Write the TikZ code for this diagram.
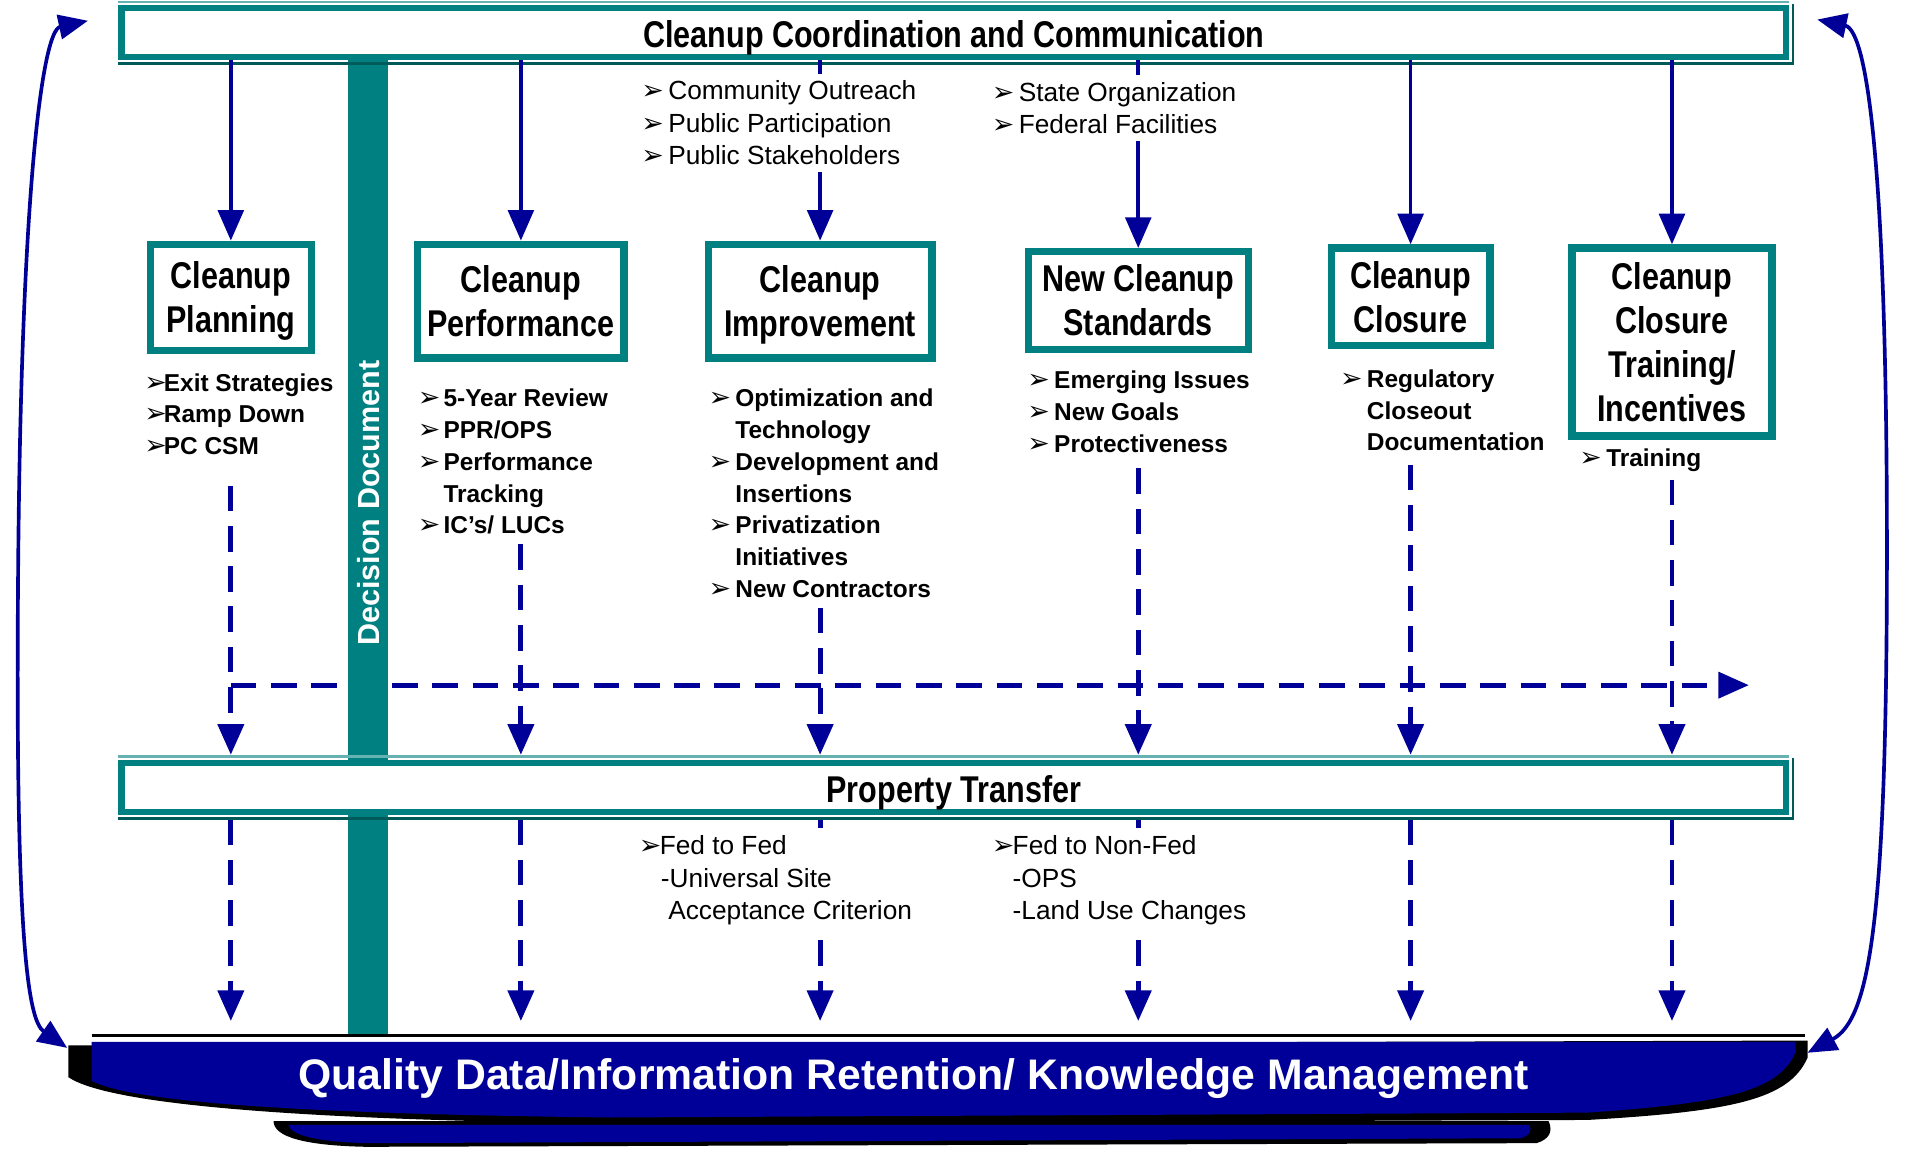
\documentclass[tikz,border=0pt]{standalone}
\usepackage{fontspec}
\setmainfont{Liberation Sans}
\newfontfamily\narrowsf[FakeStretch=0.82]{Liberation Sans}
\newfontfamily\dingsf{DejaVu Sans}
\usetikzlibrary{arrows.meta, backgrounds}

\definecolor{boxteal}{RGB}{0,128,128}
\definecolor{tealdark}{RGB}{0,90,90}
\definecolor{teallight}{RGB}{102,178,178}
\definecolor{kmblue}{RGB}{0,0,153}

\newcommand{\bul}[1][22pt]{\makebox[#1][l]{\dingsf\fontsize{22}{26}\selectfont ➢}}
\newcommand{\ind}[1][22pt]{\hspace*{#1}}

\tikzset{
  mainbar/.style={draw=boxteal, line width=5pt, fill=white, inner sep=0pt,
    minimum width=1363pt, minimum height=40pt, text height=26pt, text depth=1pt,
    font=\narrowsf\bfseries\fontsize{30.5}{36}\selectfont},
  stagebox/.style={draw=boxteal, line width=6pt, fill=white, inner sep=0pt, align=center,
    text depth=0pt, font=\narrowsf\bfseries\fontsize{30.5}{36}\selectfont},
  boldlist/.style={anchor=north west, align=left, inner sep=0pt,
    font=\bfseries\fontsize{20}{26}\selectfont},
  plainlist/.style={anchor=north west, align=left, fill=white, inner xsep=2pt, inner ysep=6pt,
    font=\fontsize{21.5}{26.5}\selectfont},
  feed/.style={kmblue, line width=3pt, -{Triangle[width=21pt,length=25pt]}},
  flow/.style={kmblue, line width=4pt, dash pattern=on 21pt off 12pt,
    -{Triangle[width=21pt,length=25pt]}},
  cycleback/.style={kmblue, line width=3pt,
    {Triangle[width=20pt,length=24pt]}-{Triangle[width=20pt,length=24pt]}}
}

\begin{document}
\begin{tikzpicture}[x=1pt, y=-1pt]
\useasboundingbox (0,0) rectangle (1568,940);

% decision document column
\fill[boxteal] (285,48) rectangle (318,848);
\node[rotate=90, text=white, font=\bfseries\fontsize{25}{30}\selectfont] (decision) at (302,412) {Decision Document};

% the two long bars, with a light top edge and a dark bottom edge
\foreach \y/\n/\t in {26.5/coord/Cleanup Coordination and Communication, 644.5/ptrans/Property Transfer} {
  \node[mainbar] (\n) at (781,\y) {\t};
  \draw[teallight, line width=2pt] ([yshift=2.5pt]\n.north west) -- ([yshift=2.5pt]\n.north east);
  \draw[tealdark, line width=2pt] ([xshift=3pt,yshift=1pt]\n.north east) -- ([xshift=3pt,yshift=-3pt]\n.south east)
    -- ([yshift=-3pt]\n.south west);
}

% stages
\node[stagebox, minimum width=132pt, minimum height=87pt] (plan) at (189,243.5) {Cleanup\\Planning};
\node[stagebox, minimum width=169pt, minimum height=93pt] (perf) at (426.5,246.5) {Cleanup\\Performance};
\node[stagebox, minimum width=183pt, minimum height=93pt] (impr) at (671.5,246.5) {Cleanup\\Improvement};
\node[stagebox, minimum width=180pt, minimum height=80pt] (std) at (932,246) {New Cleanup\\Standards};
\node[stagebox, minimum width=130pt, minimum height=80pt] (clos) at (1155,243) {Cleanup\\Closure};
\node[stagebox, minimum width=164pt, minimum height=154pt] (train) at (1369,280) {Cleanup\\Closure\\Training/\\Incentives};

% items under each stage
\node[boldlist] (planl) at (118,305.5) {\bul[16pt]Exit Strategies\\\bul[16pt]Ramp Down\\\bul[16pt]PC CSM};
\node[boldlist] (perfl) at (342,318.5) {\bul[21pt]5-Year Review\\\bul[21pt]PPR/OPS\\\bul[21pt]Performance\\\ind[21pt]Tracking\\\bul[21pt]IC’s/ LUCs};
\node[boldlist] (imprl) at (580,318.5) {\bul Optimization and\\\ind Technology\\\bul Development and\\\ind Insertions\\\bul Privatization\\\ind Initiatives\\\bul New Contractors};
\node[boldlist] (stdl) at (841,303.5) {\bul Emerging Issues\\\bul New Goals\\\bul Protectiveness};
\node[boldlist] (closl) at (1097,302.5) {\bul Regulatory\\\ind Closeout\\\ind Documentation};
\node[boldlist] (trainl) at (1293,367.5) {\bul Training};

% coordination feeds every stage
\foreach \s in {plan, perf, impr, std, clos, train}
  \draw[feed] (coord.south -| \s.north) -- (\s.north);

% stages flow down to the transfer bar
\foreach \s/\l/\g in {plan/planl/25, perf/perfl/8, impr/imprl/8, std/stdl/13, clos/closl/11, train/trainl/6}
  \draw[flow, shorten >=4pt] ([yshift=-\g pt]\l.south -| \s.north) -- (\s.north |- ptrans.north);

\coordinate (hflow) at (1432,561);
\begin{pgfonlayer}{background}
\draw[flow] (plan.north |- hflow) -- (hflow);
\end{pgfonlayer}

\coordinate (kmtop) at (781,836);
\foreach \s in {plan, perf, impr, std, clos, train}
  \draw[flow, shorten <=4pt] (ptrans.south -| \s.north) -- (\s.north |- kmtop);

% notes, drawn over the connectors
\node[plainlist] (outreach) at (523,60) {\bul Community Outreach\\\bul Public Participation\\\bul Public Stakeholders};
\node[plainlist] (agencies) at (810,61) {\bul State Organization\\\bul Federal Facilities};
\node[plainlist] (fedfed) at (521,678) {\bul[17pt]Fed to Fed\\\ind[18pt]-Universal Site\\\ind[24pt]Acceptance Criterion};
\node[plainlist] (fednonfed) at (810,678) {\bul[17pt]Fed to Non-Fed\\\ind[17pt]-OPS\\\ind[17pt]-Land Use Changes};

% knowledge management band
\draw[black, line width=2pt] (75,848) -- (1478,848);
\fill[black] (56,856) -- (1480,852) -- (1480,866) .. controls (1465,900) and (1420,910) .. (1300,917) -- (500,920)
  .. controls (250,917) and (90,905) .. (56,882) -- cycle;
\fill[kmblue] (75,853) -- (1470,853) -- (1470,862) .. controls (1456,893) and (1415,903) .. (1300,911) -- (500,915)
  .. controls (250,912) and (110,903) .. (75,885) -- cycle;
\fill[black] (224,918) -- (1268,918) .. controls (1272,927) and (1268,933) .. (1258,936) -- (300,939)
  .. controls (250,938) and (224,931) .. (224,918) -- cycle;
\fill[kmblue] (236,921) -- (1252,921) .. controls (1255,926) and (1252,930) .. (1245,932) -- (300,936)
  .. controls (262,935) and (238,930) .. (236,921) -- cycle;
\node[text=white, font=\bfseries\fontsize{35}{40}\selectfont] (kmtext) at (748,883) {Quality Data/Information Retention/ Knowledge Management};

% feedback loops between the band and the coordination bar
\coordinate (ltop) at (72,17);
\coordinate (lbot) at (55,858);
\coordinate (rtop) at (1488,16);
\coordinate (rbot) at (1480,862);
\draw[cycleback] (ltop) .. controls (35,25) and (18,150) .. (15,450) .. controls (12,760) and (22,835) .. (lbot);
\draw[cycleback] (rtop) .. controls (1530,25) and (1545,150) .. (1545,450) .. controls (1545,760) and (1530,835) .. (rbot);
\end{tikzpicture}
\end{document}
